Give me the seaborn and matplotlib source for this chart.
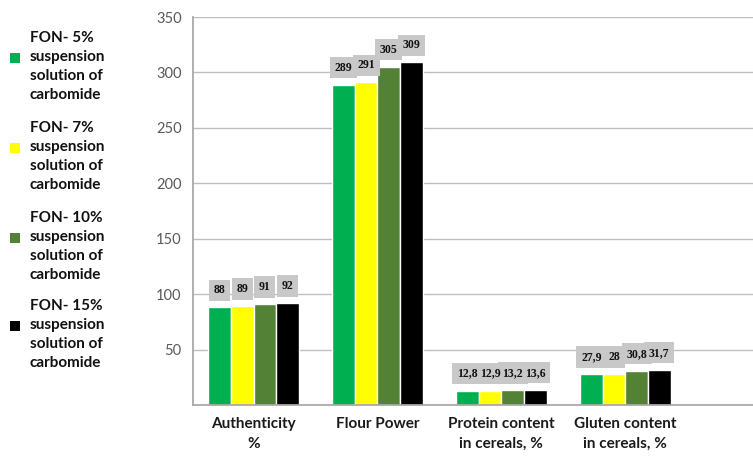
import matplotlib
matplotlib.use("Agg")
import matplotlib.pyplot as plt
from matplotlib.patches import Rectangle
import seaborn as sns
import pandas as pd

# Indicators along the x axis
categories = ["Authenticity\n%", "Flour Power", "Protein content\nin cereals, %", "Gluten content\nin cereals, %"]

# Treatment series
series = [
    "FON- 5%\nsuspension\nsolution of\ncarbomide",
    "FON- 7%\nsuspension\nsolution of\ncarbomide",
    "FON- 10%\nsuspension\nsolution of\ncarbomide",
    "FON- 15%\nsuspension\nsolution of\ncarbomide",
]

fon_5 = [88, 289, 12.8, 27.9]
fon_7 = [89, 291, 12.9, 28]
fon_10 = [91, 305, 13.2, 30.8]
fon_15 = [92, 309, 13.6, 31.7]

colors = ["#00b050", "#ffff00", "#538135", "#000000"]
y_ticks = [50, 100, 150, 200, 250, 300, 350]

values = [fon_5, fon_7, fon_10, fon_15]
rows = []
for name, vals in zip(series, values):
    for cat, v in zip(categories, vals):
        rows.append({"indicator": cat, "series": name, "value": v})
df = pd.DataFrame(rows)

sns.set_theme(style="white")
plt.rcParams["font.family"] = ["Lato", "DejaVu Sans"]

W, H = 753, 466
fig = plt.figure(figsize=(W / 100, H / 100), dpi=100)
ax = fig.add_axes([0.256, 0.131, 0.744, 0.8325])

sns.barplot(data=df, x="indicator", y="value", hue="series", order=categories,
            hue_order=series, palette=colors, saturation=1, width=0.73, gap=0,
            ax=ax, legend=False, errorbar=None)

ax.set_ylim(0, 350)
ax.set_xlim(-0.49, 4.03)
ax.set_yticks(y_ticks)
ax.yaxis.grid(True, color="#bfbfbf", linewidth=1)
ax.set_axisbelow(True)
ax.tick_params(axis="y", length=0, labelsize=10.5, labelcolor="#595959", pad=8)
ax.tick_params(axis="x", length=0, pad=9)
for lab in ax.get_xticklabels():
    lab.set_fontweight("bold")
    lab.set_fontsize(11)
    lab.set_color("#1a1a1a")
    lab.set_linespacing(1.5)
ax.set_xlabel("")
ax.set_ylabel("")
for side in ["top", "right"]:
    ax.spines[side].set_visible(False)
ax.spines["left"].set_color("#a6a6a6")
ax.spines["bottom"].set_color("#a6a6a6")

# Value labels: grey boxes first, then the numbers on top so no box hides a neighbour's text
label_style = dict(padding=8, fontfamily="Liberation Serif", fontweight="bold", fontsize=8.5)
all_labels = [[f"{v:g}".replace(".", ",") for v in vals] for vals in values]
for container, labels in zip(ax.containers, all_labels):
    ax.bar_label(container, labels=labels, color="none",
                 bbox=dict(boxstyle="square,pad=0.4", facecolor="#c8c8c8", edgecolor="none"),
                 **label_style)
for container, labels in zip(ax.containers, all_labels):
    ax.bar_label(container, labels=labels, color="#111111", **label_style)

# Legend column on the left: colour square beside a four-line label
block_top = [31, 121, 211, 299]
for name, container, top in zip(series, ax.containers, block_top):
    color = container.patches[0].get_facecolor()
    fig.text(30 / W, 1 - top / H, name, ha="left", va="top", fontsize=11,
             fontweight="bold", color="#111111", linespacing=1.45)
    sq_y = top + 22
    fig.patches.append(Rectangle((10 / W, 1 - (sq_y + 10) / H), 10 / W, 10 / H,
                                 transform=fig.transFigure, facecolor=color,
                                 edgecolor="none", figure=fig))

fig.savefig("out.png", dpi=100)
